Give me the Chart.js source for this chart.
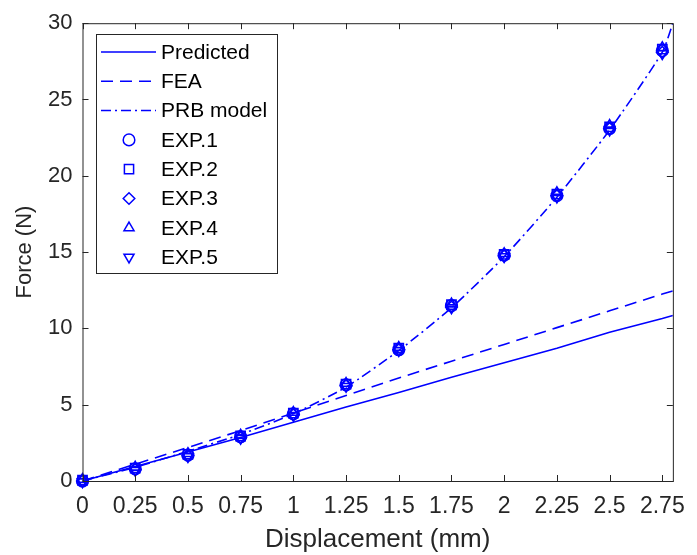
<!DOCTYPE html>
<html>
<head>
<meta charset="utf-8">
<script src="https://cdn.jsdelivr.net/npm/chart.js@4.4.0/dist/chart.umd.min.js"></script>
<style>
  html, body { margin: 0; padding: 0; background: #fff; }
  #wrap { width: 697px; height: 555px; position: relative; }
</style>
</head>
<body>
<div id="wrap"><canvas id="myChart" width="697" height="555"></canvas></div>
<script>
// data
const xExp = [0, 0.25, 0.5, 0.75, 1, 1.25, 1.5, 1.75, 2, 2.25, 2.5, 2.75];
const exp1 = [0, 0.8, 1.7, 2.9, 4.4, 6.3, 8.6, 11.5, 14.8, 18.7, 23.1, 28.2];
const exp2 = [0.05, 0.85, 1.75, 2.95, 4.45, 6.35, 8.7, 11.55, 14.85, 18.8, 23.2, 28.3];
const exp3 = [0, 0.75, 1.65, 2.85, 4.35, 6.25, 8.6, 11.4, 14.75, 18.7, 23.1, 28.1];
const exp4 = [0.1, 0.9, 1.8, 3.0, 4.5, 6.4, 8.75, 11.6, 14.9, 18.9, 23.3, 28.4];
const exp5 = [-0.05, 0.7, 1.6, 2.8, 4.3, 6.2, 8.55, 11.35, 14.7, 18.6, 23.0, 28.0];

const xModel = [0, 0.25, 0.5, 0.75, 1, 1.25, 1.5, 1.75, 2, 2.25, 2.5, 2.75, 2.8];
const predicted = [0, 0.95, 1.9, 2.85, 3.85, 4.85, 5.8, 6.8, 7.75, 8.7, 9.75, 10.65, 10.85];
const fea = [0, 1.1, 2.2, 3.3, 4.45, 5.6, 6.75, 7.85, 8.95, 10.05, 11.15, 12.25, 12.45];
const prb = [0, 0.9, 1.95, 3.05, 4.4, 6.15, 8.55, 11.35, 14.7, 18.6, 23.0, 28.1, 30.0];

const xTicks = [0, 0.25, 0.5, 0.75, 1, 1.25, 1.5, 1.75, 2, 2.25, 2.5, 2.75];
const yTicks = [0, 5, 10, 15, 20, 25, 30];

const BLUE = '#0000ff';
const AXIS = '#262626';
const FONT = "'Liberation Sans', Arial, sans-serif";

function pts(xs, ys) {
  return xs.map((x, i) => ({ x: x, y: ys[i] }));
}

function lineSet(label, ys, dash, tension) {
  return {
    label: label,
    data: pts(xModel, ys),
    borderColor: BLUE,
    borderWidth: 1.6,
    borderDash: dash,
    pointRadius: 0,
    fill: false,
    tension: tension,
    showLine: true,
    clip: 0
  };
}

function markerSet(label, ys, style, rot) {
  return {
    label: label,
    data: pts(xExp, ys),
    showLine: false,
    borderColor: BLUE,
    backgroundColor: 'rgba(0,0,0,0)',
    pointStyle: style,
    rotation: rot || 0,
    pointRadius: style === 'rect' ? 6.5 : 5.8,
    pointBorderWidth: 1.6,
    clip: 10
  };
}

// legend drawn inside the plot box, MATLAB style
const boxLegend = {
  id: 'boxLegend',
  afterDatasetsDraw(chart) {
    const ctx = chart.ctx;
    const x0 = 96, y0 = 34, w = 181, h = 239;
    ctx.save();
    ctx.fillStyle = '#fff';
    ctx.fillRect(x0, y0, w, h);
    ctx.strokeStyle = AXIS;
    ctx.lineWidth = 1;
    ctx.strokeRect(x0 + 0.5, y0 + 0.5, w, h);
    ctx.font = '21px ' + FONT;
    ctx.textBaseline = 'middle';
    chart.data.datasets.forEach((ds, i) => {
      const y = 52 + i * 29.3;
      ctx.strokeStyle = BLUE;
      ctx.lineWidth = 1.5;
      if (ds.showLine) {
        ctx.setLineDash(ds.borderDash || []);
        ctx.beginPath();
        ctx.moveTo(101, y);
        ctx.lineTo(156, y);
        ctx.stroke();
        ctx.setLineDash([]);
      } else {
        ctx.fillStyle = 'rgba(0,0,0,0)';
        Chart.helpers.drawPoint(ctx, {
          pointStyle: ds.pointStyle,
          rotation: ds.rotation,
          radius: ds.pointRadius,
          borderWidth: 1.5
        }, 129, y);
      }
      ctx.fillStyle = '#000';
      ctx.fillText(ds.label, 161, y + 1);
    });
    ctx.restore();
  },
  afterDraw(chart) {
    // axes box with inward ticks
    const ctx = chart.ctx;
    const a = chart.chartArea;
    const xs = chart.scales.x, ys = chart.scales.y;
    ctx.save();
    ctx.strokeStyle = AXIS;
    ctx.lineWidth = 1;
    ctx.strokeRect(a.left + 0.5, a.top + 0.5, a.right - a.left, a.bottom - a.top);
    ctx.beginPath();
    xTicks.forEach(v => {
      const px = Math.round(xs.getPixelForValue(v)) + 0.5;
      ctx.moveTo(px, a.bottom); ctx.lineTo(px, a.bottom - 6);
      ctx.moveTo(px, a.top); ctx.lineTo(px, a.top + 6);
    });
    yTicks.forEach(v => {
      const py = Math.round(ys.getPixelForValue(v)) + 0.5;
      ctx.moveTo(a.left, py); ctx.lineTo(a.left + 6, py);
      ctx.moveTo(a.right, py); ctx.lineTo(a.right - 6, py);
    });
    ctx.stroke();
    ctx.restore();
  }
};

document.addEventListener('DOMContentLoaded', () => {
  const ctx = document.getElementById('myChart').getContext('2d');
  new Chart(ctx, {
    type: 'scatter',
    data: {
      datasets: [
        lineSet('Predicted', predicted, [], 0),
        lineSet('FEA', fea, [12, 7], 0),
        lineSet('PRB model', prb, [10, 4, 2, 4], 0.2),
        markerSet('EXP.1', exp1, 'circle'),
        markerSet('EXP.2', exp2, 'rect'),
        markerSet('EXP.3', exp3, 'rectRot'),
        markerSet('EXP.4', exp4, 'triangle'),
        markerSet('EXP.5', exp5, 'triangle', 180)
      ]
    },
    options: {
      responsive: false,
      animation: false,
      layout: { padding: { top: 22, right: 17, left: 0, bottom: 0 } },
      plugins: { legend: { display: false }, tooltip: { enabled: false } },
      scales: {
        x: {
          type: 'linear',
          min: 0,
          max: 2.8,
          afterFit: s => { s.height = 74; },
          afterBuildTicks: s => { s.ticks = xTicks.map(v => ({ value: v })); },
          grid: { display: false, drawTicks: false },
          border: { display: false },
          ticks: {
            padding: 12,
            color: AXIS,
            font: { family: FONT, size: 23 },
            maxRotation: 0,
            autoSkip: false,
            callback: v => String(v)
          },
          title: {
            display: true,
            text: 'Displacement (mm)',
            color: AXIS,
            font: { family: FONT, size: 26 },
            padding: { top: 0, bottom: 0 }
          }
        },
        y: {
          type: 'linear',
          min: 0,
          max: 30,
          afterFit: s => { s.width = 82.5; },
          afterBuildTicks: s => { s.ticks = yTicks.map(v => ({ value: v })); },
          grid: { display: false, drawTicks: false },
          border: { display: false },
          ticks: {
            padding: 10,
            color: AXIS,
            font: { family: FONT, size: 22 }
          },
          title: {
            display: true,
            text: 'Force (N)',
            color: AXIS,
            font: { family: FONT, size: 22 },
            padding: { top: 12, bottom: 0 }
          }
        }
      }
    },
    plugins: [boxLegend]
  });
});
</script>
</body>
</html>
